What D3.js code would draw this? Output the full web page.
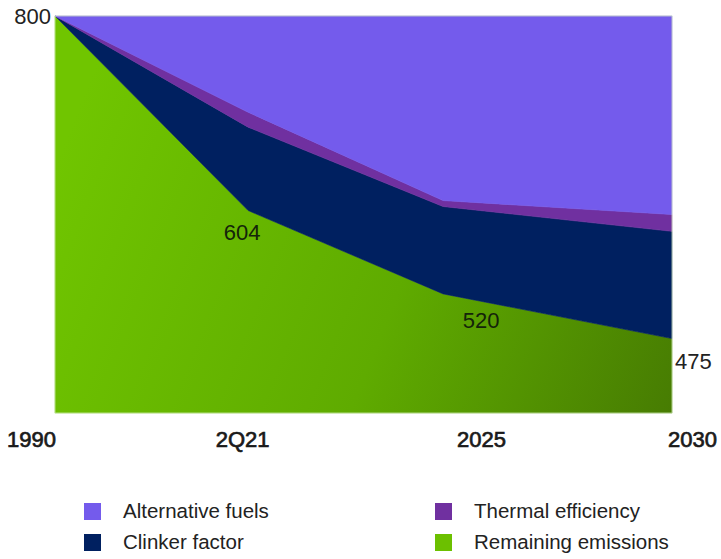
<!DOCTYPE html>
<html>
<head>
<meta charset="utf-8">
<script src="https://cdn.jsdelivr.net/npm/d3@7"></script>
<style>
  html, body { margin: 0; padding: 0; background: #fff; }
  svg { display: block; }
</style>
</head>
<body>
<svg id="chart" width="721" height="559"></svg>
<script>
// Milestones along the x axis
const periods = ["1990", "2Q21", "2025", "2030"];

// Emission reductions stacked on top of the remaining emissions (kg CO2 / t)
const remainingEmissions = [800, 604, 520, 475];
const clinkerFactor      = [0, 84, 88, 108];
const thermalEfficiency  = [0, 15, 6, 17];
const alternativeFuels   = [0, 97, 186, 200];

// Values printed beside the remaining-emissions line
const valueLabels = [800, 604, 520, 475];

const seriesNames = ["Remaining emissions", "Clinker factor", "Thermal efficiency", "Alternative fuels"];
const colors = {
  "Alternative fuels": "#745bec",
  "Thermal efficiency": "#7030a0",
  "Clinker factor": "#002060",
  "Remaining emissions": "url(#greenFill)"
};
const legendColors = {
  "Alternative fuels": "#745bec",
  "Thermal efficiency": "#7030a0",
  "Clinker factor": "#002060",
  "Remaining emissions": "#6cc000"
};

const svg = d3.select("#chart");
const plot = { left: 55, right: 672, top: 16, bottom: 413 };

// Build one row per period for the stack generator
const rows = periods.map((p, i) => ({
  period: p,
  "Remaining emissions": remainingEmissions[i],
  "Clinker factor": clinkerFactor[i],
  "Thermal efficiency": thermalEfficiency[i],
  "Alternative fuels": alternativeFuels[i]
}));

const stacked = d3.stack().keys(seriesNames)(rows);

// Milestones are not evenly spaced in time; place them along the plot width
const w = plot.right - plot.left;
const x = d3.scaleOrdinal()
  .domain(periods)
  .range([0, 0.313, 0.629, 1].map(f => plot.left + f * w));

const y = d3.scaleLinear()
  .domain([400, 800])
  .range([plot.bottom, plot.top]);

// Green gradient for the remaining emissions
const defs = svg.append("defs");
const grad = defs.append("linearGradient")
  .attr("id", "greenFill")
  .attr("gradientUnits", "userSpaceOnUse")
  .attr("x1", plot.left).attr("y1", plot.top + 150)
  .attr("x2", plot.right).attr("y2", plot.bottom);
grad.append("stop").attr("offset", "0%").attr("stop-color", "#70c500");
grad.append("stop").attr("offset", "55%").attr("stop-color", "#5fab00");
grad.append("stop").attr("offset", "100%").attr("stop-color", "#477c02");

const area = d3.area()
  .x(d => x(d.data.period))
  .y0(d => y(d[0]))
  .y1(d => y(d[1]));

const baseArea = d3.area()
  .x(d => x(d.data.period))
  .y0(plot.bottom)
  .y1(d => y(d[1]));

svg.append("g")
  .selectAll("path")
  .data(stacked)
  .join("path")
  .attr("d", s => s.key === "Remaining emissions" ? baseArea(s) : area(s))
  .attr("fill", s => colors[s.key])
  .attr("stroke", s => colors[s.key])
  .attr("stroke-width", 0.6)
  .attr("stroke-linejoin", "round");

// Faint edge around the plot
svg.append("rect")
  .attr("x", plot.left).attr("y", plot.top)
  .attr("width", w).attr("height", plot.bottom - plot.top)
  .attr("fill", "none")
  .attr("stroke", "#d9f0c0")
  .attr("stroke-opacity", 0.7)
  .attr("stroke-width", 1);

// Labels sit a little off each milestone
const labelShift = [-24, -6, 38, 20];

// Value labels beside the remaining-emissions line
const labelFont = "'Liberation Sans', Arial, sans-serif";
const labelOffsets = [
  { dx: -4, dy: 8, anchor: "end" },
  { dx: labelShift[1], dy: 29, anchor: "middle" },
  { dx: labelShift[2], dy: 34, anchor: "middle" },
  { dx: 3, dy: 30, anchor: "start" }
];
svg.append("g")
  .selectAll("text")
  .data(valueLabels)
  .join("text")
  .attr("x", (v, i) => x(periods[i]) + labelOffsets[i].dx)
  .attr("y", (v, i) => y(remainingEmissions[i]) + labelOffsets[i].dy)
  .attr("text-anchor", (v, i) => labelOffsets[i].anchor)
  .attr("font-family", labelFont)
  .attr("font-size", 22)
  .attr("fill", (v, i) => (i === 0 || i === 3) ? "#222" : "#14240a")
  .text(v => v);

// X axis labels
const xLabels = d3.scaleOrdinal()
  .domain(periods)
  .range(periods.map((p, i) => x(p) + labelShift[i]));
const xAxis = d3.axisBottom(xLabels).tickSize(0).tickPadding(0);
const axisG = svg.append("g")
  .attr("transform", "translate(0,431)")
  .call(xAxis);
axisG.select(".domain").remove();
axisG.selectAll("text")
  .attr("font-family", labelFont)
  .attr("font-size", 22)
  .attr("fill", "#1a1a1a")
  .attr("stroke", "#1a1a1a")
  .attr("stroke-width", 0.7)
  .attr("dy", "0.71em");

// Legend: two columns, two rows
const legendItems = ["Alternative fuels", "Thermal efficiency", "Clinker factor", "Remaining emissions"];
const legend = svg.append("g");
const legendCells = legend.selectAll("g")
  .data(legendItems)
  .join("g")
  .attr("transform", (d, i) => `translate(${i % 2 === 0 ? 84 : 435},${i < 2 ? 503 : 534})`);
legendCells.append("rect")
  .attr("width", 17).attr("height", 17)
  .attr("fill", d => legendColors[d]);
legendCells.append("text")
  .attr("x", 39).attr("y", 15)
  .attr("font-family", labelFont)
  .attr("font-size", 20.5)
  .attr("fill", "#222")
  .text(d => d);
</script>
</body>
</html>
